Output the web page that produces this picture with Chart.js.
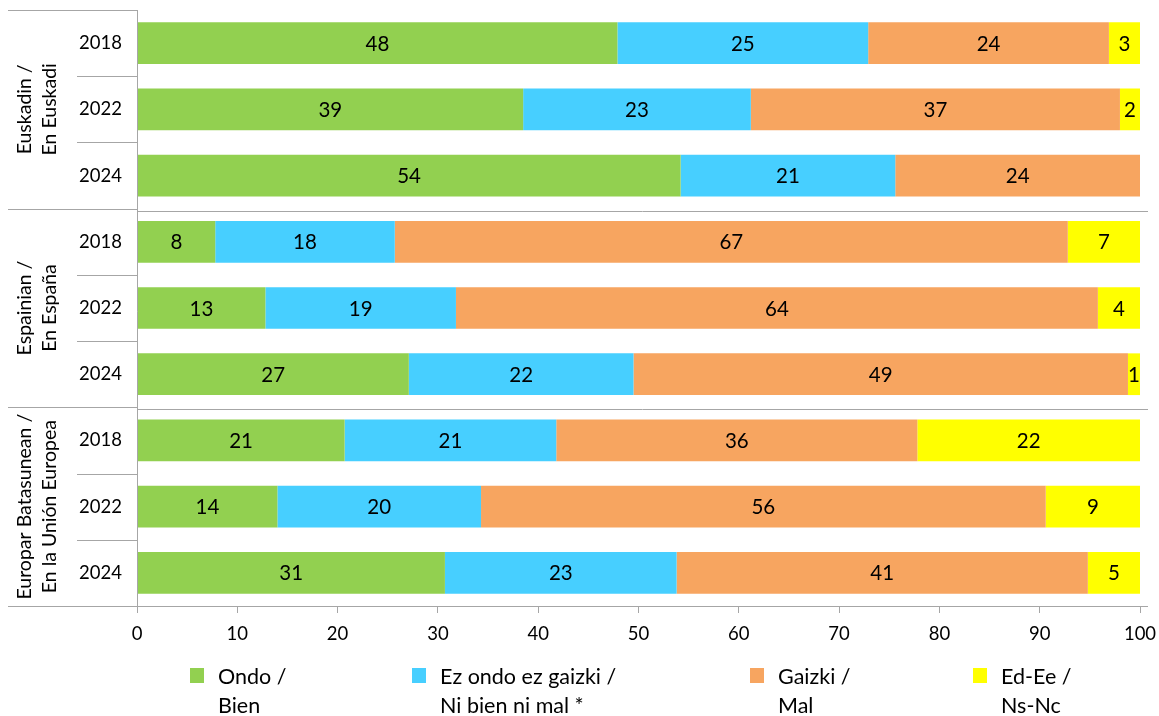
<!DOCTYPE html>
<html lang="es">
<head>
<meta charset="UTF-8">
<title>Ondo / Bien</title>
<style>
  body { margin: 0; background: #fff; }
  canvas { display: block; }
</style>
</head>
<body>
<canvas id="grafica" width="1159" height="716"></canvas>
<script src="https://cdn.jsdelivr.net/npm/chart.js@4.4.1/dist/chart.umd.min.js"></script>
<script>
// taldeak eta urteak
const groupLabels = [['Euskadin /', 'En Euskadi'], ['Espainian /', 'En España'], ['Europar Batasunean /', 'En la Unión Europea']];
const years = ['2018', '2022', '2024'];
const categories = ['2018', '2022', '2024', '2018', '2022', '2024', '2018', '2022', '2024'];

// serieak (barren luzeratik irakurritako balioak)
const seriesNames = [['Ondo /', 'Bien'], ['Ez ondo ez gaizki /', 'Ni bien ni mal *'], ['Gaizki /', 'Mal'], ['Ed-Ee /', 'Ns-Nc']];
const ondo = [47.9, 38.5, 54.2, 7.8, 12.8, 27.1, 20.7, 14.0, 30.7];
const ezOndo = [25.0, 22.7, 21.4, 17.9, 19.0, 22.4, 21.1, 20.3, 23.1];
const gaizki = [24.0, 36.8, 24.4, 67.1, 64.0, 49.3, 36.0, 56.3, 41.0];
const edEe = [3.1, 2.0, 0, 7.2, 4.2, 1.2, 22.2, 9.4, 5.2];
const xTicks = [0, 10, 20, 30, 40, 50, 60, 70, 80, 90, 100];

const colors = ['#92D050', '#47CFFF', '#F7A560', '#FFFF00'];
const lineColor = '#A6A6A6';
const fontName = 'Lato';

// lerroak, talde-etiketak eta legenda
const extras = {
    id: 'extras',
    afterDraw(chart) {
        const c = chart.ctx;
        const y = chart.scales.y;
        const area = chart.chartArea;
        const band = (y.getPixelForValue(1) - y.getPixelForValue(0));
        c.save();
        c.strokeStyle = lineColor;
        c.lineWidth = 1;
        const hline = (x1, x2, yy) => {
            c.beginPath();
            c.moveTo(x1, Math.round(yy) + 0.5);
            c.lineTo(x2, Math.round(yy) + 0.5);
            c.stroke();
        };
        // ardatz bertikala
        c.beginPath();
        c.moveTo(area.left + 0.5, area.top);
        c.lineTo(area.left + 0.5, area.bottom + 7);
        c.stroke();
        // goiko marra eta behekoa
        hline(8, area.left, area.top);
        hline(8, area.right + 8, area.bottom);
        for (let i = 0; i < categories.length - 1; i++) {
            const yy = y.getPixelForValue(i) + band / 2;
            if ((i + 1) % years.length === 0) {
                hline(8, area.left, yy);
                hline(area.left, area.right + 8, yy + 2);
            } else {
                hline(77, area.left, yy);
            }
        }
        // talde-etiketak
        c.fillStyle = '#000';
        c.font = '19.5px ' + fontName;
        c.textAlign = 'center';
        c.textBaseline = 'middle';
        groupLabels.forEach((lines, g) => {
            const cy = (y.getPixelForValue(g * 3) + y.getPixelForValue(g * 3 + 2)) / 2;
            lines.forEach((t, k) => {
                c.save();
                c.translate(25 + k * 25, cy);
                c.rotate(-Math.PI / 2);
                c.fillText(t, 0, 0);
                c.restore();
            });
        });
        // legenda
        const legendX = [190, 412, 750, 973];
        c.textAlign = 'left';
        c.font = '21.5px ' + fontName;
        seriesNames.forEach((lines, i) => {
            c.fillStyle = colors[i];
            c.fillRect(legendX[i], 668, 14, 15);
            c.fillStyle = '#000';
            lines.forEach((t, k) => c.fillText(t, legendX[i] + 28, 677 + k * 29));
        });
        c.restore();
    }
};

// balioen etiketak
const valueLabels = {
    id: 'valueLabels',
    afterDatasetsDraw(chart) {
        const c = chart.ctx;
        c.save();
        c.fillStyle = '#000';
        c.font = '20.5px ' + fontName;
        c.textAlign = 'center';
        c.textBaseline = 'middle';
        chart.data.datasets.forEach((ds, i) => {
            chart.getDatasetMeta(i).data.forEach((bar, j) => {
                const v = ds.data[j];
                if (v < 0.5) return;
                c.fillText(Math.round(v), (bar.x + bar.base) / 2, bar.y + 1);
            });
        });
        c.restore();
    }
};

const noPad = (s) => { s.paddingTop = 0; s.paddingBottom = 0; s.paddingLeft = 0; s.paddingRight = 0; };

const ctx = document.getElementById('grafica').getContext('2d');
const grafica = new Chart(ctx, {
    type: 'bar',
    data: {
        labels: categories,
        datasets: [ondo, ezOndo, gaizki, edEe].map((d, i) => ({
            label: seriesNames[i].join(' '),
            data: d,
            backgroundColor: colors[i],
            borderWidth: 0,
            barPercentage: 0.63,
            categoryPercentage: 1
        }))
    },
    options: {
        indexAxis: 'y',
        responsive: false,
        animation: false,
        layout: { padding: { top: 10, right: 19, left: 0, bottom: 0 } },
        plugins: {
            legend: { display: false },
            tooltip: { enabled: false }
        },
        scales: {
            x: {
                stacked: true,
                min: 0,
                max: 100,
                afterBuildTicks: (s) => { s.ticks = xTicks.map(v => ({ value: v })); },
                grid: { drawOnChartArea: false, tickLength: 7, color: lineColor },
                border: { display: false },
                ticks: { color: '#000', font: { family: fontName, size: 18.5 }, padding: 10 },
                afterFit: (s) => { s.height = 110; noPad(s); }
            },
            y: {
                stacked: true,
                grid: { display: false },
                border: { display: false },
                ticks: { color: '#000', font: { family: fontName, size: 18.5 }, padding: 7 },
                afterFit: (s) => { s.width = 137; noPad(s); }
            }
        }
    },
    plugins: [valueLabels, extras]
});
</script>
</body>
</html>
